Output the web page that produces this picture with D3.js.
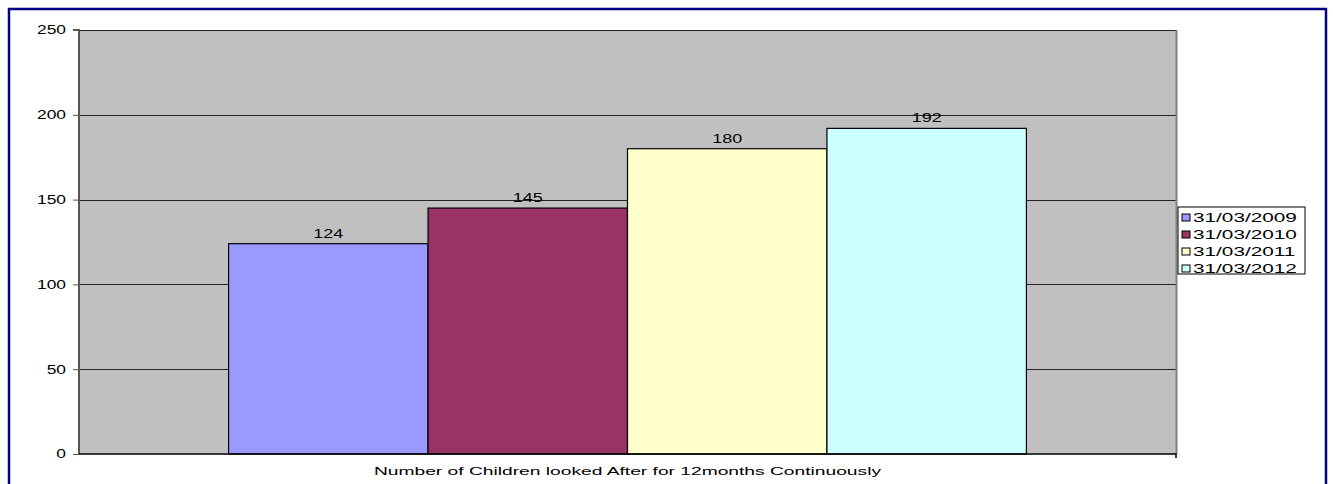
<!DOCTYPE html>
<html>
<head>
<meta charset="utf-8">
<script src="https://cdn.jsdelivr.net/npm/d3@7"></script>
<style>
  html, body { margin: 0; padding: 0; background: #fff; }
  svg { display: block; }
  text { font-family: "Liberation Sans", Arial, sans-serif; fill: #000; }
</style>
</head>
<body>
<svg id="chart" width="1333" height="484"></svg>
<script>
const category = "Number of Children looked After for 12months Continuously";
const seriesNames = ["31/03/2009", "31/03/2010", "31/03/2011", "31/03/2012"];
const seriesValues = [124, 145, 180, 192];
const seriesColors = ["#9999FF", "#993366", "#FFFFCC", "#CCFFFF"];
const yTicks = [0, 50, 100, 150, 200, 250];

const svg = d3.select("#chart");
const W = 1333, H = 484;

// horizontally stretch text to mimic the wide rendering of the original
function stretch(sel, factor) {
  sel.each(function () {
    const len = this.getComputedTextLength();
    d3.select(this).attr("textLength", len * factor).attr("lengthAdjust", "spacingAndGlyphs");
  });
}

// outer frame
svg.append("rect").attr("x", 9).attr("y", 9).attr("width", 1317).attr("height", H + 20)
  .attr("fill", "none").attr("stroke", "#000080").attr("stroke-width", 2.5);

const plot = { left: 79, right: 1176, top: 30, bottom: 454 };

const y = d3.scaleLinear().domain([0, 250]).range([plot.bottom, plot.top]);
const x0 = d3.scaleBand().domain([category]).range([plot.left, plot.right]).paddingInner(0).paddingOuter(0);
const groupWidth = x0.bandwidth();
const barW = groupWidth / (seriesNames.length + 1.5);
const x1 = d3.scaleBand().domain(seriesNames)
  .range([x0(category) + barW * 0.75, x0(category) + groupWidth - barW * 0.75]).padding(0);

// plot background
svg.append("rect").attr("x", plot.left).attr("y", plot.top)
  .attr("width", plot.right - plot.left).attr("height", plot.bottom - plot.top)
  .attr("fill", "#C0C0C0");

// gridlines
svg.append("g").selectAll("line").data(yTicks.filter(d => d > 0)).join("line")
  .attr("x1", plot.left).attr("x2", plot.right)
  .attr("y1", d => Math.round(y(d)) + 0.5).attr("y2", d => Math.round(y(d)) + 0.5)
  .attr("stroke", "#222").attr("stroke-width", 1);

// right border of plot area
svg.append("line").attr("x1", plot.right + 0.5).attr("x2", plot.right + 0.5)
  .attr("y1", plot.top).attr("y2", plot.bottom).attr("stroke", "#808080").attr("stroke-width", 2);

// bars
const data = seriesNames.map((n, i) => ({ name: n, value: seriesValues[i], color: seriesColors[i] }));
svg.append("g").selectAll("rect").data(data).join("rect")
  .attr("x", d => x1(d.name)).attr("y", d => y(d.value))
  .attr("width", x1.bandwidth()).attr("height", d => y(0) - y(d.value))
  .attr("fill", d => d.color).attr("stroke", "#000").attr("stroke-width", 1.2);

// data labels
const dl = svg.append("g").selectAll("text").data(data).join("text")
  .attr("x", d => x1(d.name) + x1.bandwidth() / 2).attr("y", d => y(d.value) - 6)
  .attr("text-anchor", "middle").attr("font-size", 12).text(d => d.value);
stretch(dl, 1.5);

// y axis
const yAxis = d3.axisLeft(y).tickValues(yTicks).tickSize(6).tickPadding(7);
const ya = svg.append("g").attr("transform", `translate(${plot.left},0)`).call(yAxis);
ya.select(".domain").attr("stroke", "#555").attr("stroke-width", 2).attr("d", `M-6,${plot.top}H0V${plot.bottom}`);
ya.selectAll(".tick line").attr("stroke", "#555");
const yt = ya.selectAll(".tick text").attr("font-size", 12).attr("font-family", "Liberation Sans, Arial, sans-serif").attr("fill", "#000");
stretch(yt, 1.45);

// x axis
const xAxis = d3.axisBottom(x0).tickValues([]).tickSizeOuter(4);
const xa = svg.append("g").attr("transform", `translate(0,${plot.bottom})`).call(xAxis);
xa.select(".domain").attr("stroke", "#000").attr("stroke-width", 1.5)
  .attr("d", `M${plot.left},0H${plot.right}V4`);

const xt = svg.append("text").attr("x", (plot.left + plot.right) / 2 + 0).attr("y", 475)
  .attr("text-anchor", "middle").attr("font-size", 11.5).text(category);
stretch(xt, 1.67);

// legend
const lg = svg.append("g").attr("transform", "translate(1178,207)");
lg.append("rect").attr("x", 0).attr("y", 0).attr("width", 127).attr("height", 67)
  .attr("fill", "#fff").attr("stroke", "#000").attr("stroke-width", 1);
const items = lg.selectAll("g").data(data).join("g")
  .attr("transform", (d, i) => `translate(4,${7 + i * 17})`);
items.append("rect").attr("x", 0).attr("y", 0).attr("width", 8).attr("height", 7)
  .attr("fill", d => d.color).attr("stroke", "#000").attr("stroke-width", 1);
const lt = items.append("text").attr("x", 11).attr("y", 8).attr("font-size", 12).text(d => d.name);
stretch(lt, 1.73);
</script>
</body>
</html>
